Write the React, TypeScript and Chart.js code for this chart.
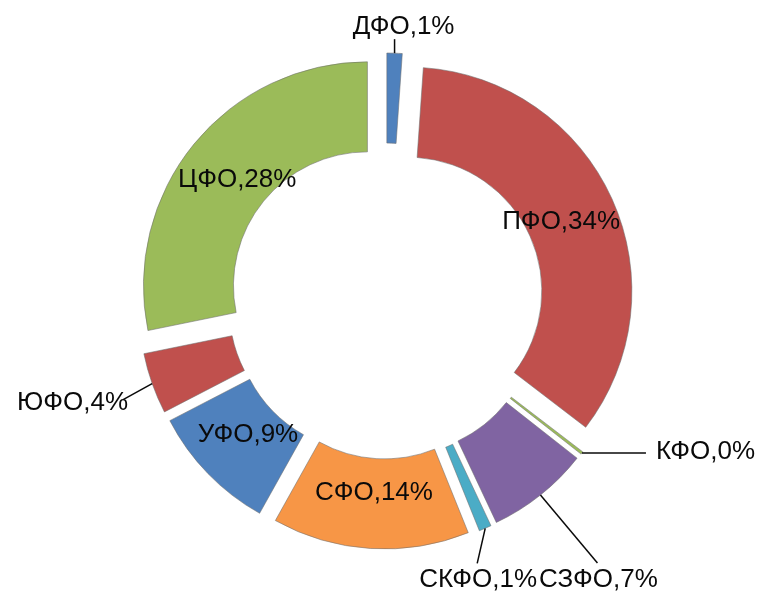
import React, { useEffect, useRef } from "react";
import { Chart, registerables } from "chart.js";

Chart.register(...registerables);

const categories = ["ДФО", "ПФО", "КФО", "СЗФО", "СКФО", "СФО", "УФО", "ЮФО", "ЦФО"];
const shares = [1.1, 34.3, 0.2, 7.4, 0.9, 14.2, 9.3, 4.4, 28.2];
const sliceColors = ["#4F81BD", "#C0504D", "#9BBB59", "#8064A2", "#4BACC6", "#F79646", "#4F81BD", "#C0504D", "#9BBB59"];

// label placement style (offsets in px relative to the slice's outer edge point)
const labelPlacement: any[] = [
  { mode: "out", line: [0, -14], text: [9, -26], align: "center" },
  { mode: "in" },
  { mode: "out", line: [64, 0], text: [74, -1], align: "left" },
  { mode: "out", line: [57, 68], text: [58, 85], align: "center" },
  { mode: "out", line: [-8, 35], text: [-7, 52], align: "center" },
  { mode: "in" },
  { mode: "in" },
  { mode: "out", line: [-29, 16], text: [-24, 19], align: "right" },
  { mode: "in" },
];

const EXPLODE = 24;

const explodePlugin = {
  id: "explode",
  beforeDatasetDraw(chart: any, args: any, opts: any) {
    const ctx = chart.ctx;
    const d = opts.distance || 0;
    args.meta.data.forEach((arc: any) => {
      const { startAngle, endAngle } = arc.getProps(["startAngle", "endAngle"], true);
      const mid = (startAngle + endAngle) / 2;
      ctx.save();
      ctx.translate(Math.cos(mid) * d, Math.sin(mid) * d);
      arc.draw(ctx, chart.chartArea);
      ctx.restore();
    });
    return false;
  },
};

const labelPlugin = {
  id: "sliceLabels",
  afterDraw(chart: any, _args: any, opts: any) {
    const ctx = chart.ctx;
    const d = opts.distance || 0;
    const meta = chart.getDatasetMeta(0);
    const values = chart.data.datasets[0].data;
    ctx.save();
    ctx.font = '26px "Liberation Sans", Arial, sans-serif';
    ctx.fillStyle = "#0a0a0a";
    ctx.strokeStyle = "#0a0a0a";
    ctx.lineWidth = 1.5;
    ctx.textBaseline = "middle";
    meta.data.forEach((arc: any, i: number) => {
      const { x, y, startAngle, endAngle, innerRadius, outerRadius } = arc.getProps(
        ["x", "y", "startAngle", "endAngle", "innerRadius", "outerRadius"],
        true
      );
      const mid = (startAngle + endAngle) / 2;
      const cx = Math.cos(mid);
      const cy = Math.sin(mid);
      const text = `${chart.data.labels[i]},${Math.round(values[i])}%`;
      const pl = labelPlacement[i];
      if (pl.mode === "in") {
        const r = d + innerRadius + (outerRadius - innerRadius) * 0.38;
        ctx.textAlign = "center";
        ctx.fillText(text, x + cx * r, y + cy * r);
      } else {
        const px = x + cx * (outerRadius + d);
        const py = y + cy * (outerRadius + d);
        ctx.beginPath();
        ctx.moveTo(px, py);
        ctx.lineTo(px + pl.line[0], py + pl.line[1]);
        ctx.stroke();
        ctx.textAlign = pl.align;
        ctx.fillText(text, px + pl.text[0], py + pl.text[1]);
      }
    });
    ctx.restore();
  },
};

export default function App() {
  const ref = useRef<HTMLCanvasElement>(null);
  useEffect(() => {
    if (!ref.current) return;
    const chart = new Chart(ref.current, {
      type: "doughnut",
      data: {
        labels: categories,
        datasets: [
          {
            data: shares,
            backgroundColor: sliceColors,
            borderColor: "rgba(110,110,110,0.55)",
            borderWidth: 1,
          },
        ],
      },
      options: {
        responsive: false,
        animation: false,
        radius: 224,
        cutout: "59.8%",
        layout: { padding: { left: 11, top: 8, right: 0, bottom: 0 } },
        plugins: {
          legend: { display: false },
          tooltip: { enabled: false },
          explode: { distance: EXPLODE },
          sliceLabels: { distance: EXPLODE },
        } as any,
      },
      plugins: [explodePlugin, labelPlugin],
    });
    return () => chart.destroy();
  }, []);
  return (
    <div style={{ position: "fixed", left: 0, top: 0, width: 761, height: 594, background: "#fff" }}>
      <canvas ref={ref} width={761} height={594} />
    </div>
  );
}
